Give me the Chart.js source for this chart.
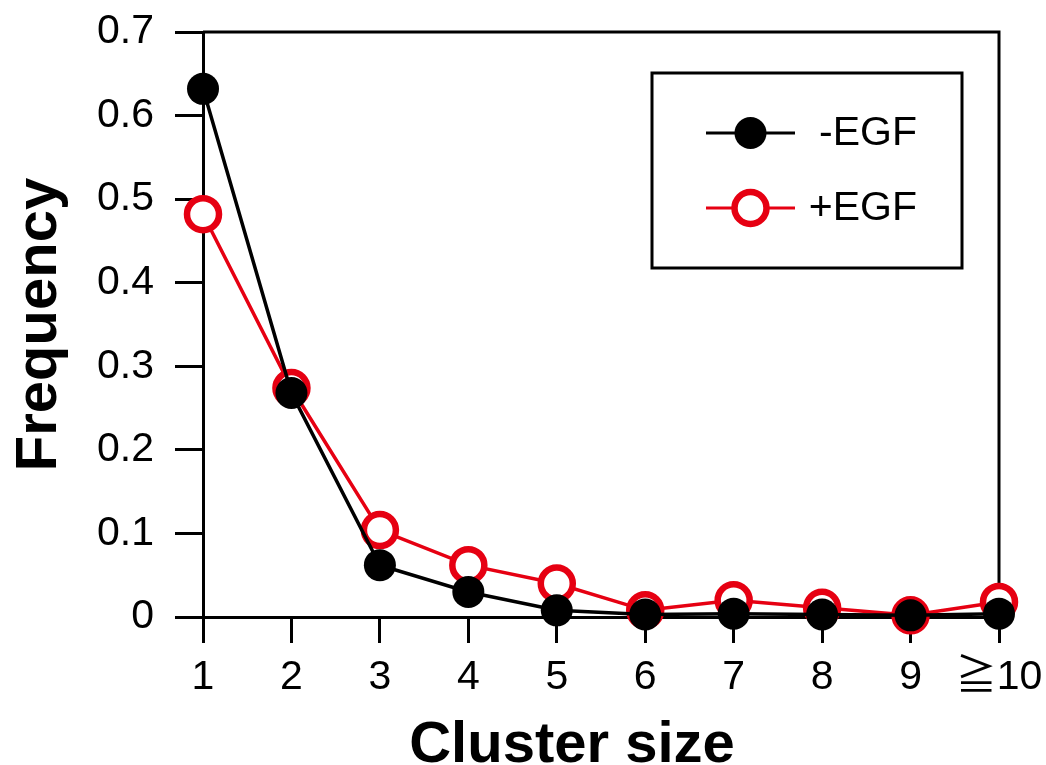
<!DOCTYPE html>
<html>
<head>
<meta charset="utf-8">
<script src="https://cdn.jsdelivr.net/npm/chart.js@4"></script>
<style>
  html, body { margin: 0; padding: 0; background: #fff; }
  #wrap { width: 1046px; height: 765px; }
</style>
</head>
<body>
<div id="wrap"><canvas id="c" width="1046" height="765"></canvas></div>
<script>
const categories = ['1', '2', '3', '4', '5', '6', '7', '8', '9', '\u226710'];
const minusEGF = [0.632, 0.268, 0.062, 0.030, 0.008, 0.003, 0.004, 0.003, 0.002, 0.004];
const plusEGF  = [0.482, 0.274, 0.104, 0.062, 0.040, 0.008, 0.020, 0.011, 0.002, 0.018];
const seriesNames = ['-EGF', '+EGF'];
const yTicks = [0, 0.1, 0.2, 0.3, 0.4, 0.5, 0.6, 0.7];
const xTitle = 'Cluster size';
const yTitle = 'Frequency';

const RED = '#e60012';
const FONT = "'Liberation Sans', Arial, 'Noto Sans CJK JP', 'DejaVu Sans', sans-serif";

const framePlugin = {
  id: 'frame',
  beforeDatasetsDraw(chart) {
    const { ctx, chartArea: a } = chart;
    ctx.save();
    ctx.strokeStyle = '#000';
    ctx.lineWidth = 3;
    ctx.beginPath();
    ctx.moveTo(a.left, a.top);
    ctx.lineTo(a.right, a.top);
    ctx.lineTo(a.right, a.bottom);
    ctx.stroke();
    ctx.restore();
  }
};

const titlePlugin = {
  id: 'xTitle',
  afterDraw(chart) {
    const { ctx } = chart;
    ctx.save();
    ctx.fillStyle = '#000';
    ctx.font = 'bold 58px ' + FONT;
    ctx.textAlign = 'center';
    ctx.textBaseline = 'alphabetic';
    ctx.fillText(xTitle, 572, 762);
    ctx.restore();
  }
};

const legendPlugin = {
  id: 'boxLegend',
  afterDraw(chart) {
    const { ctx } = chart;
    const box = { l: 652, t: 73, r: 962, b: 268 };
    ctx.save();
    ctx.fillStyle = '#fff';
    ctx.fillRect(box.l, box.t, box.r - box.l, box.b - box.t);
    ctx.strokeStyle = '#000';
    ctx.lineWidth = 3;
    ctx.strokeRect(box.l, box.t, box.r - box.l, box.b - box.t);
    const rows = [133, 208];
    chart.data.datasets.forEach((ds, i) => {
      const y = rows[i];
      ctx.strokeStyle = ds.borderColor;
      ctx.lineWidth = 3;
      ctx.beginPath();
      ctx.moveTo(706, y);
      ctx.lineTo(795, y);
      ctx.stroke();
      ctx.beginPath();
      ctx.arc(750.5, y, ds.pointRadius, 0, Math.PI * 2);
      ctx.fillStyle = ds.pointBackgroundColor;
      ctx.fill();
      if (ds.pointBorderWidth > 0) {
        ctx.lineWidth = ds.pointBorderWidth;
        ctx.strokeStyle = ds.pointBorderColor;
        ctx.stroke();
      }
      ctx.fillStyle = '#000';
      ctx.font = '41px ' + FONT;
      ctx.textAlign = 'right';
      ctx.textBaseline = 'middle';
      ctx.fillText(ds.label, 917, y + 1);
    });
    ctx.restore();
  }
};

new Chart(document.getElementById('c'), {
  type: 'line',
  data: {
    labels: categories,
    datasets: [
      {
        label: seriesNames[0],
        data: minusEGF,
        borderColor: '#000',
        borderWidth: 3.5,
        pointRadius: 16,
        pointBackgroundColor: '#000',
        pointBorderColor: '#000',
        pointBorderWidth: 0,
        tension: 0,
        clip: false,
        order: 0
      },
      {
        label: seriesNames[1],
        data: plusEGF,
        borderColor: RED,
        borderWidth: 3.5,
        pointRadius: 16,
        pointBackgroundColor: '#fff',
        pointBorderColor: RED,
        pointBorderWidth: 6.5,
        tension: 0,
        clip: false,
        order: 1
      }
    ]
  },
  options: {
    responsive: false,
    devicePixelRatio: 1,
    animation: false,
    events: [],
    layout: { padding: { top: 32, right: 47, left: 0, bottom: 0 } },
    plugins: { legend: { display: false }, tooltip: { enabled: false } },
    scales: {
      x: {
        type: 'category',
        offset: false,
        grid: { drawOnChartArea: false, drawTicks: true, tickLength: 26, color: '#000', lineWidth: 3 },
        border: { display: true, color: '#000', width: 3 },
        ticks: { color: '#000', font: { family: FONT, size: 41 }, padding: 10, maxRotation: 0, autoSkip: false },
        title: { display: false },
        afterFit(s) { s.height = 148; s.paddingLeft = 0; s.paddingRight = 0; }
      },
      y: {
        min: 0,
        max: 0.7,
        afterBuildTicks(s) { s.ticks = yTicks.map(v => ({ value: v })); },
        grid: { drawOnChartArea: false, drawTicks: true, tickLength: 28, color: '#000', lineWidth: 3 },
        border: { display: true, color: '#000', width: 3 },
        ticks: { color: '#000', font: { family: FONT, size: 41 }, padding: 21, callback: v => (v === 0 ? '0' : Number(v).toFixed(1)) },
        title: { display: true, text: yTitle, color: '#000', font: { family: FONT, size: 58, weight: 'bold', lineHeight: 0.8 }, padding: { top: 17, bottom: 0 } },
        afterFit(s) { s.width = 203; s.paddingTop = 0; s.paddingBottom = 0; }
      }
    }
  },
  plugins: [framePlugin, titlePlugin, legendPlugin]
});
</script>
</body>
</html>
